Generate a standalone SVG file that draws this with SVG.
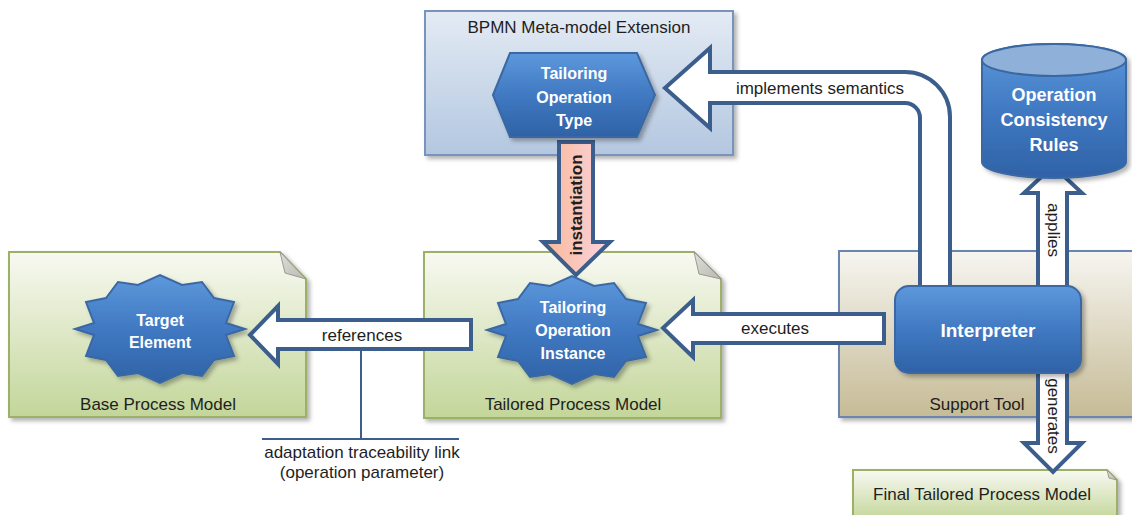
<svg xmlns="http://www.w3.org/2000/svg" width="1132" height="515" viewBox="0 0 1132 515">
<defs>
<linearGradient id="gBlue" x1="0" y1="0" x2="0" y2="1"><stop offset="0" stop-color="#5d98dc"/><stop offset="0.5" stop-color="#4079c2"/><stop offset="1" stop-color="#2f62a6"/></linearGradient>
<linearGradient id="gBpmn" x1="0" y1="0" x2="0" y2="1"><stop offset="0" stop-color="#e4ebf4"/><stop offset="1" stop-color="#b3c7e0"/></linearGradient>
<linearGradient id="gGreen" x1="0" y1="0" x2="0" y2="1"><stop offset="0" stop-color="#f8f9f2"/><stop offset="1" stop-color="#c3d699"/></linearGradient>
<linearGradient id="gTan" x1="0" y1="0" x2="0" y2="1"><stop offset="0" stop-color="#f6f5f0"/><stop offset="1" stop-color="#c6bb96"/></linearGradient>
<linearGradient id="gPeach" x1="0" y1="0" x2="1" y2="0"><stop offset="0" stop-color="#f8b896"/><stop offset="1" stop-color="#fcd4e0"/></linearGradient>
<linearGradient id="gFold" x1="0" y1="0" x2="1" y2="1"><stop offset="0" stop-color="#e0e0dc"/><stop offset="1" stop-color="#b8b8b0"/></linearGradient>
<filter id="sh" x="-10%" y="-10%" width="130%" height="130%"><feDropShadow dx="3" dy="3" stdDeviation="2" flood-color="#000" flood-opacity="0.3"/></filter>
</defs>
<style>
.box{stroke-width:2;filter:url(#sh)}
.green{fill:url(#gGreen);stroke:#9cb068}
.fold{fill:url(#gFold);stroke:#9a9a90;stroke-width:1}
.node{fill:url(#gBlue);stroke:#3a68a3;stroke-width:2;filter:url(#sh)}
.arrow{fill:#ffffff;stroke:#3b5e8c;stroke-width:4;stroke-linejoin:miter}
.lbl{font-family:"Liberation Sans",Arial,sans-serif;font-size:17px;fill:#1e1e1e;text-anchor:middle}
.wt{font-family:"Liberation Sans",Arial,sans-serif;font-weight:bold;fill:#ffffff;text-anchor:middle}
.line{stroke:#3b5e8c;stroke-width:2;fill:none}
</style>

<g id="bpmn-extension">
<rect class="box" x="425" y="11" width="308" height="144" fill="url(#gBpmn)" stroke="#7894bd"/>
<text class="lbl" x="579" y="33">BPMN Meta-model Extension</text>
</g>
<g id="base-process-model">
<path class="box green" d="M9,252 L280,252 L306,279 L306,417 L9,417 Z"/>
<path class="fold" d="M280,252 L306,279 L285,273 Z"/>
<text class="lbl" x="158" y="410">Base Process Model</text>
</g>
<g id="tailored-process-model">
<path class="box green" d="M424,252 L694,252 L721,279 L721,418 L424,418 Z"/>
<path class="fold" d="M694,252 L721,279 L699,274 Z"/>
<text class="lbl" x="573" y="410">Tailored Process Model</text>
</g>
<g id="support-tool">
<rect class="box" x="839" y="251" width="300" height="166" fill="url(#gTan)" stroke="#6a86b0"/>
<text class="lbl" x="977" y="410">Support Tool</text>
</g>
<g id="final-tailored-process-model">
<path class="box green" d="M853,470 L1107,470 L1117,480 L1117,520 L853,520 Z"/>
<path class="fold" d="M1107,470 L1117,480 L1109,478 Z"/>
<text class="lbl" x="982" y="500">Final Tailored Process Model</text>
</g>

<g id="connectors">
<path class="arrow" d="M665,88 L710,48 L710,72 L905,72 A45,45 0 0 1 950,117 L950,292 L920,292 L920,118 A15,15 0 0 0 905,103 L710,103 L710,128 Z"/>
<text class="lbl" x="820" y="94">implements semantics</text>
<path class="arrow" d="M250,335 L278,306 L278,320 L471,320 L471,349 L278,349 L278,364 Z"/>
<text class="lbl" x="362" y="341">references</text>
<path class="arrow" d="M663,328 L693,300 L693,314 L884,314 L884,343 L693,343 L693,357 Z"/>
<text class="lbl" x="775" y="334">executes</text>
<path class="arrow" style="fill:url(#gPeach)" d="M559,142 L593,142 L593,242 L610,242 L576,275 L543,242 L559,242 Z"/>
<text class="lbl" style="font-weight:bold" transform="translate(576,205) rotate(-90)" dominant-baseline="central">instantiation</text>
<path class="arrow" d="M1038,290 L1038,193 L1024,193 L1053,166 L1082,193 L1067,193 L1067,290 Z"/>
<text class="lbl" transform="translate(1053,230) rotate(90)" dominant-baseline="central">applies</text>
<path class="arrow" d="M1038,370 L1038,443 L1024,443 L1053,472 L1082,443 L1067,443 L1067,370 Z"/>
<text class="lbl" transform="translate(1053,416) rotate(90)" dominant-baseline="central">generates</text>
<path class="line" d="M361,351 L361,439 M262,439 L459,439"/>
<text class="lbl" x="362" y="458">adaptation traceability link</text>
<text class="lbl" x="362" y="478">(operation parameter)</text>
</g>

<g id="tailoring-operation-type">
<polygon class="node" points="493,95 510,53 637,53 655,95 637,137 510,137"/>
<text class="wt" font-size="16" x="574" y="79">Tailoring</text>
<text class="wt" font-size="16" x="574" y="103">Operation</text>
<text class="wt" font-size="16" x="574" y="126">Type</text>
</g>
<g id="operation-consistency-rules">
<path class="node" d="M982,60 A72,16 0 0 1 1126,60 L1126,162 A72,16 0 0 1 982,162 Z"/>
<ellipse cx="1054" cy="60" rx="72" ry="16" fill="#8fb0d8" stroke="#3a68a3" stroke-width="2"/>
<text class="wt" font-size="18" x="1054" y="101">Operation</text>
<text class="wt" font-size="18" x="1054" y="126">Consistency</text>
<text class="wt" font-size="18" x="1054" y="151">Rules</text>
</g>
<g id="target-element">
<polygon class="node" points="245,329 226,335 234,356 214,360 202,376 182,373 160,383 138,373 118,376 106,360 86,356 94,335 75,329 94,323 86,302 106,298 118,282 138,285 160,275 182,285 202,282 214,298 234,302 226,323"/>
<text class="wt" font-size="16" x="160" y="326">Target</text>
<text class="wt" font-size="16" x="160" y="348">Element</text>
</g>
<g id="tailoring-operation-instance">
<polygon class="node" points="657,330 638,336 646,357 626,361 614,377 594,374 572,384 550,374 530,377 518,361 498,357 506,336 487,330 506,324 498,303 518,299 530,283 550,286 572,276 594,286 614,283 626,299 646,303 638,324"/>
<text class="wt" font-size="16" x="573" y="313">Tailoring</text>
<text class="wt" font-size="16" x="573" y="336">Operation</text>
<text class="wt" font-size="16" x="573" y="359">Instance</text>
</g>
<g id="interpreter">
<rect class="node" x="895" y="286" width="186" height="87" rx="14"/>
<text class="wt" font-size="19" x="988" y="337">Interpreter</text>
</g>
</svg>
